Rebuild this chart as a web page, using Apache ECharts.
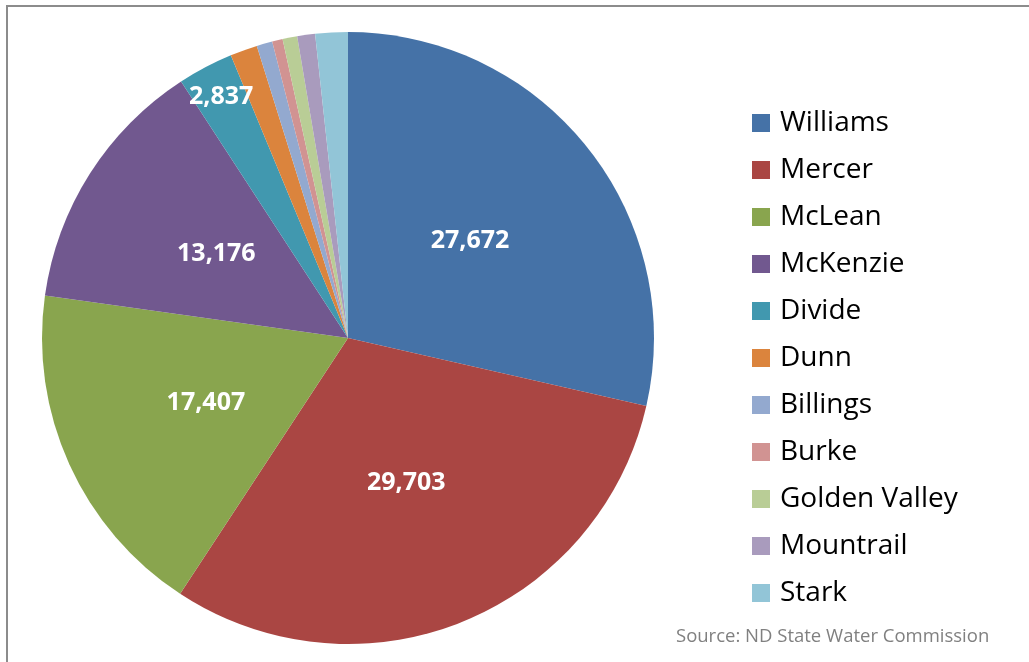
<!DOCTYPE html>
<html>
<head>
<meta charset="utf-8">
<script src="https://cdn.jsdelivr.net/npm/echarts@6/dist/echarts.min.js"></script>
<style>
html,body{margin:0;padding:0;background:#fff;}
#frame{position:absolute;left:6px;top:5px;width:1040px;height:680px;border:2px solid #8c8c8c;box-sizing:border-box;}
#c{position:absolute;left:0;top:0;width:1029px;height:662px;}
</style>
</head>
<body>
<div id="frame"></div>
<div id="c"></div>
<script>
const counties = ['Williams','Mercer','McLean','McKenzie','Divide','Dunn','Billings','Burke','Golden Valley','Mountrail','Stark'];
const values = [27672, 29703, 17407, 13176, 2837, 1394, 804, 536, 750, 911, 1662];
const colors = ['#4572A7','#AA4643','#89A54E','#71588F','#4198AF','#DB843D','#93A9CF','#D19392','#B9CD96','#A99BBD','#92C5D7'];
const labeledBig = ['Williams','Mercer','McLean','McKenzie'];
const labeledOuter = ['Divide'];
const sourceText = 'Source: ND State Water Commission';

const fmt = v => v.toLocaleString('en-US');
const font = '"Open Sans", "Liberation Sans", sans-serif';

const mainData = counties.map((n, i) => ({
  name: n, value: values[i],
  itemStyle: { color: colors[i] },
  label: { show: labeledBig.includes(n) }
}));
const overlayData = counties.map((n, i) => ({
  name: n, value: values[i],
  label: { show: labeledOuter.includes(n) }
}));

const labelStyle = {
  position: 'inside',
  formatter: p => fmt(p.value),
  color: '#fff',
  fontFamily: font,
  fontWeight: 'bold',
  fontSize: 25
};

const chart = echarts.init(document.getElementById('c'), null, { renderer: 'canvas' });
chart.setOption({
  animation: false,
  backgroundColor: 'transparent',
  color: colors,
  legend: {
    orient: 'vertical',
    left: 752,
    top: 109,
    height: 600,
    padding: 0,
    itemWidth: 18,
    itemHeight: 18,
    itemGap: 19,
    icon: 'rect',
    textStyle: { fontFamily: font, fontSize: 28, lineHeight: 28, color: '#000', padding: [0, 0, 0, 5] },
    data: counties
  },
  graphic: [{
    type: 'text',
    left: 676,
    top: 627,
    style: { text: sourceText, font: '18.5px ' + font, fill: '#808080' }
  }],
  series: [{
    type: 'pie',
    center: [348, 338],
    radius: [0, 306],
    startAngle: 90,
    clockwise: true,
    data: mainData,
    itemStyle: { borderWidth: 0 },
    emphasis: { disabled: true },
    labelLine: { show: false },
    label: labelStyle
  }, {
    type: 'pie',
    center: [348, 338],
    radius: [232, 306],
    startAngle: 90,
    clockwise: true,
    silent: true,
    data: overlayData,
    legendHoverLink: false,
    itemStyle: { color: 'rgba(0,0,0,0)', borderWidth: 0 },
    emphasis: { disabled: true },
    labelLine: { show: false },
    label: labelStyle
  }]
});
</script>
</body>
</html>
